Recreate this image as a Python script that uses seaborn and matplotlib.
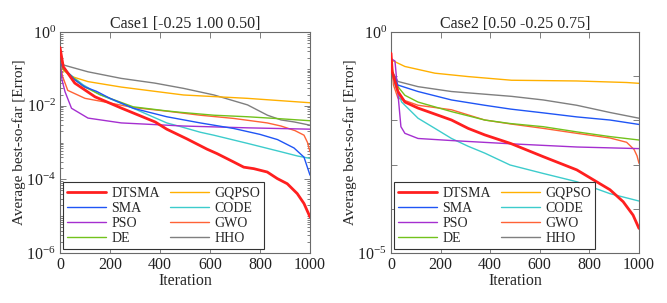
import numpy as np
import pandas as pd
import matplotlib
matplotlib.use('Agg')
import matplotlib.pyplot as plt
import seaborn as sns
from matplotlib.ticker import FixedLocator, FixedFormatter, LogLocator, NullFormatter

# ---------------- data ----------------
algorithms = ['DTSMA', 'SMA', 'PSO', 'DE', 'GQPSO', 'CODE', 'GWO', 'HHO']
case_titles = ['Case1 [-0.25 1.00 0.50]', 'Case2 [0.50 -0.25 0.75]']

# Case 1
dtsma1_it = [0, 13, 59, 140, 247, 381, 427, 507, 588, 628, 695, 735, 775, 829, 869, 909, 949, 976, 1000]
dtsma1_val = [3.8e-1, 1.15e-1, 4.1e-2, 1.74e-2, 8.5e-3, 3.6e-3, 2.3e-3, 1.26e-3, 6.6e-4, 5.0e-4, 2.95e-4,
              2.14e-4, 1.95e-4, 1.58e-4, 1.05e-4, 7.6e-5, 4.1e-5, 2.2e-5, 9.5e-6]
sma1_it = [0, 12, 59, 100, 146, 200, 293, 427, 561, 695, 800, 870, 936, 976, 1000]
sma1_val = [1.5e-1, 1.12e-1, 5.0e-2, 3.2e-2, 2.45e-2, 1.58e-2, 8.5e-3, 5.0e-3, 3.4e-3, 2.4e-3, 1.66e-3,
            1.2e-3, 7.1e-4, 4.0e-4, 1.3e-4]
pso1_it = [0, 8, 20, 46, 112, 245, 494, 750, 1000]
pso1_val = [1.78e-1, 5.0e-2, 2.4e-2, 8.5e-3, 4.6e-3, 3.4e-3, 2.8e-3, 2.5e-3, 2.3e-3]
de1_it = [0, 12, 92, 159, 293, 427, 482, 616, 750, 884, 1000]
de1_val = [1.5e-1, 1.0e-1, 3.4e-2, 2.0e-2, 9.3e-3, 7.2e-3, 6.6e-3, 5.5e-3, 5.0e-3, 4.4e-3, 3.9e-3]
gqpso1_it = [0, 15, 46, 112, 245, 494, 750, 1000]
gqpso1_val = [1.78e-1, 8.9e-2, 6.2e-2, 4.5e-2, 3.2e-2, 1.95e-2, 1.58e-2, 1.2e-2]
code1_it = [0, 12, 92, 159, 293, 427, 482, 561, 615, 749, 884, 950, 1000]
code1_val = [1.5e-1, 1.0e-1, 3.7e-2, 2.0e-2, 8.5e-3, 3.4e-3, 2.7e-3, 1.9e-3, 1.58e-3, 9.5e-4, 5.6e-4,
             4.3e-4, 3.7e-4]
gwo1_it = [0, 10, 31, 100, 179, 293, 427, 561, 695, 829, 884, 940, 976, 990, 1000]
gwo1_val = [1.5e-1, 6.3e-2, 2.6e-2, 1.58e-2, 1.26e-2, 8.9e-3, 7.1e-3, 5.5e-3, 4.5e-3, 3.4e-3, 2.8e-3,
            2.1e-3, 1.58e-3, 1.0e-3, 5.6e-4]
hho1_it = [0, 16, 112, 245, 379, 494, 616, 750, 830, 884, 938, 1000]
hho1_val = [1.78e-1, 1.26e-1, 8.3e-2, 5.5e-2, 4.1e-2, 2.95e-2, 1.95e-2, 1.05e-2, 5.5e-3, 4.1e-3, 3.6e-3,
            2.95e-3]

# Case 2
dtsma2_it = [0, 5, 28, 56, 109, 244, 311, 378, 483, 614, 749, 883, 936, 976, 1000]
dtsma2_val = [3.3e-1, 1.26e-1, 4.5e-2, 2.6e-2, 1.9e-2, 1.02e-2, 6.6e-3, 4.7e-3, 3.0e-3, 1.51e-3, 7.6e-4,
              2.7e-4, 1.45e-4, 7.2e-5, 3.6e-5]
sma2_it = [0, 5, 28, 109, 244, 378, 483, 614, 749, 883, 1000]
sma2_val = [2.6e-1, 1.26e-1, 6.3e-2, 4.5e-2, 2.9e-2, 2.2e-2, 1.8e-2, 1.48e-2, 1.2e-2, 1.02e-2, 8.1e-3]
pso2_it = [0, 16, 40, 56, 109, 244, 486, 750, 1000]
pso2_val = [2.5e-1, 2.2e-1, 7.2e-3, 5.1e-3, 3.9e-3, 3.5e-3, 2.95e-3, 2.5e-3, 2.3e-3]
de2_it = [0, 8, 30, 56, 109, 244, 378, 480, 614, 749, 883, 1000]
de2_val = [2.6e-1, 1.12e-1, 5.6e-2, 3.7e-2, 2.6e-2, 1.58e-2, 1.02e-2, 8.5e-3, 7.2e-3, 5.5e-3, 4.3e-3, 3.6e-3]
gqpso2_it = [0, 3, 56, 177, 311, 486, 749, 950, 1000]
gqpso2_val = [2.8e-1, 2.3e-1, 1.66e-1, 1.17e-1, 9.8e-2, 8.1e-2, 7.8e-2, 7.2e-2, 6.9e-2]
code2_it = [0, 5, 16, 43, 109, 177, 244, 311, 378, 480, 614, 749, 883, 1000]
code2_val = [2.8e-1, 1.26e-1, 6.3e-2, 2.6e-2, 1.12e-2, 6.6e-3, 3.9e-3, 2.6e-3, 1.82e-3, 9.8e-4, 6.3e-4,
             4.1e-4, 2.2e-4, 1.5e-4]
gwo2_it = [0, 10, 28, 109, 244, 378, 483, 614, 749, 883, 950, 980, 992, 1000]
gwo2_val = [2.6e-1, 6.3e-2, 3.2e-2, 2.2e-2, 1.74e-2, 1.02e-2, 8.3e-3, 6.6e-3, 5.1e-3, 4.0e-3, 3.2e-3,
            2.2e-3, 1.58e-3, 1.07e-3]
hho2_it = [0, 5, 28, 109, 244, 486, 614, 749, 883, 1000]
hho2_val = [2.6e-1, 1.26e-1, 7.6e-2, 5.8e-2, 4.5e-2, 3.5e-2, 2.9e-2, 2.2e-2, 1.51e-2, 1.12e-2]

x_ticks = [0, 200, 400, 600, 800, 1000]
case1_yticks = [1e-6, 1e-4, 1e-2, 1e0]
case1_ylabels = ['$10^{-6}$', '$10^{-4}$', '$10^{-2}$', '$10^{0}$']
case2_yticks = [1e-5, 1e-4, 1e-3, 1e-2, 1e-1, 1e0]
case2_ylabels = ['$10^{-5}$', '', '', '', '', '$10^{0}$']

series = {
    0: {'DTSMA': (dtsma1_it, dtsma1_val), 'SMA': (sma1_it, sma1_val), 'PSO': (pso1_it, pso1_val),
        'DE': (de1_it, de1_val), 'GQPSO': (gqpso1_it, gqpso1_val), 'CODE': (code1_it, code1_val),
        'GWO': (gwo1_it, gwo1_val), 'HHO': (hho1_it, hho1_val)},
    1: {'DTSMA': (dtsma2_it, dtsma2_val), 'SMA': (sma2_it, sma2_val), 'PSO': (pso2_it, pso2_val),
        'DE': (de2_it, de2_val), 'GQPSO': (gqpso2_it, gqpso2_val), 'CODE': (code2_it, code2_val),
        'GWO': (gwo2_it, gwo2_val), 'HHO': (hho2_it, hho2_val)},
}

rows = []
for case, d in series.items():
    for alg, (its, vals) in d.items():
        for i, v in zip(its, vals):
            rows.append({'case': case, 'Algorithm': alg, 'Iteration': i, 'Error': v})
df = pd.DataFrame(rows)

# ---------------- style ----------------
palette = {'DTSMA': '#ff1f1f', 'SMA': '#1f55f5', 'PSO': '#a52fd0', 'DE': '#72c21c',
           'GQPSO': '#ffb000', 'CODE': '#3dcccc', 'GWO': '#ff6236', 'HHO': '#7f7f7f'}

sns.set_theme(style='ticks')
plt.rcParams['font.family'] = ['Liberation Serif', 'DejaVu Serif']
plt.rcParams['mathtext.fontset'] = 'custom'
plt.rcParams['mathtext.rm'] = 'Liberation Serif'
plt.rcParams['mathtext.it'] = 'Liberation Serif:italic'

fig = plt.figure(figsize=(6.67, 3.03), dpi=100)
axes = [fig.add_axes([60 / 667, 50 / 303, 250 / 667, 221 / 303]),
        fig.add_axes([391 / 667, 50 / 303, 248 / 667, 221 / 303])]

spine_col = '#6a6a6a'
for k, ax in enumerate(axes):
    sub = df[df['case'] == k]
    order_draw = ['HHO', 'GWO', 'CODE', 'GQPSO', 'DE', 'PSO', 'SMA', 'DTSMA']
    for alg in order_draw:
        s = sub[sub['Algorithm'] == alg]
        lw = 2.0 if alg == 'DTSMA' else 1.0
        sns.lineplot(data=s, x='Iteration', y='Error', color=palette[alg], lw=lw, ax=ax,
                     estimator=None, label=alg, zorder=3 if alg == 'DTSMA' else 2)
    ax.set_yscale('log')
    ax.set_xlim(0, 1000)
    if k == 0:
        ax.set_ylim(1e-6, 1e0)
        ax.yaxis.set_major_locator(FixedLocator(case1_yticks))
        ax.yaxis.set_major_formatter(FixedFormatter(case1_ylabels))
        ax.yaxis.set_minor_locator(LogLocator(base=10, subs=np.arange(1, 10), numticks=20))
    else:
        ax.set_ylim(1e-5, 1e0)
        ax.yaxis.set_major_locator(FixedLocator(case2_yticks))
        ax.yaxis.set_major_formatter(FixedFormatter(case2_ylabels))
        ax.yaxis.set_minor_locator(FixedLocator([]))
    ax.yaxis.set_minor_formatter(NullFormatter())
    ax.xaxis.set_major_locator(FixedLocator(x_ticks))
    ax.set_xlabel('Iteration', fontsize=11.5, labelpad=0)
    ax.set_ylabel('Average best-so-far [Error]', fontsize=11, labelpad=0)
    ax.set_title(case_titles[k], fontsize=11.5, pad=3)
    ax.tick_params(which='both', direction='in', top=True, right=True, colors=spine_col,
                   labelcolor='#222222', labelsize=11.5, width=0.6)
    ax.tick_params(which='major', length=4, pad=3)
    ax.tick_params(which='minor', length=2)
    for sp in ax.spines.values():
        sp.set_color(spine_col)
        sp.set_linewidth(0.8)
    h, l = ax.get_legend_handles_labels()
    hm = dict(zip(l, h))
    leg = ax.legend([hm[a] for a in algorithms], algorithms, ncol=2, loc='lower left',
                    bbox_to_anchor=(0.012, 0.018), borderaxespad=0, fontsize=10,
                    frameon=True, fancybox=False, edgecolor='#333333', framealpha=1,
                    handlelength=2.8, handletextpad=0.4, columnspacing=0.7,
                    labelspacing=0.15, borderpad=0.3)
    leg.get_frame().set_linewidth(0.8)

fig.savefig('out.png', dpi=100)
